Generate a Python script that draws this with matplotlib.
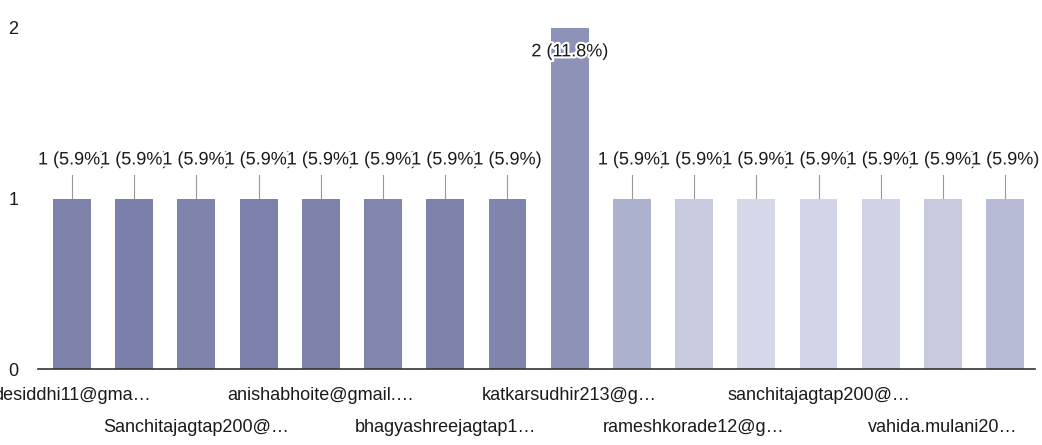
import matplotlib.pyplot as plt
import matplotlib.patheffects as pe

plt.rcParams['font.family'] = ['Liberation Sans', 'DejaVu Sans']

# responses per email (17 responses in total)
counts = [1, 1, 1, 1, 1, 1, 1, 1, 2, 1, 1, 1, 1, 1, 1, 1]
total = 17
tick_labels = ['desiddhi11@gma…', 'Sanchitajagtap200@…', 'anishabhoite@gmail.…',
               'bhagyashreejagtap1…', 'katkarsudhir213@g…', 'rameshkorade12@g…',
               'sanchitajagtap200@…', 'vahida.mulani20…']
# scanned bar shades
colors = ['#7c82aa', '#7a80a9', '#7e84ab', '#7b81aa', '#7d83ab', '#8086ae', '#7c82aa',
          '#7f85ad', '#8d92b7', '#acb1cd', '#c8cbe0', '#d6d9ea', '#d2d5e7', '#d0d3e6',
          '#c7cadf', '#b7bbd5']

fig = plt.figure(figsize=(10.42, 4.45), dpi=100)
ax = fig.add_axes([38 / 1042, 1 - 369 / 445, 997 / 1042, 341 / 445])

x = list(range(len(counts)))
ax.bar(x, counts, width=0.61, color=colors, zorder=2)

halo = [pe.withStroke(linewidth=3, foreground='white')]
for i, c in enumerate(counts):
    label = f'{c} ({c / total * 100:.1f}%)'
    if c == 2:
        ax.text(i, 1.86, label, ha='center', va='center', fontsize=13,
                color='#1a1a1a', path_effects=halo, zorder=5)
    else:
        ax.plot([i, i], [c + 0.005, c + 0.135], color='#999999', lw=0.8, zorder=3)
        ax.text(i, c + 0.226, label, ha='center', va='center', fontsize=13,
                color='#1a1a1a', path_effects=halo, zorder=4 + i * 0.01)

ax.set_xlim(-0.547, 15.48)
ax.set_ylim(0, 2)
ax.set_yticks([0, 1, 2])
ax.set_yticklabels(['0', '1', '2'], fontsize=13, color='#1a1a1a')
ax.tick_params(axis='y', length=0, pad=14)

# category labels, staggered over two rows
ax.set_xticks(x[::2])
ax.set_xticklabels([])
ax.tick_params(axis='x', length=0)
for k, t in enumerate(tick_labels):
    off = -26 if k % 2 == 0 else -59
    ax.annotate(t, xy=(x[::2][k], 0), xycoords=('data', 'axes fraction'),
                xytext=(0, off), textcoords='offset pixels', ha='center', va='center',
                fontsize=13, color='#1a1a1a', annotation_clip=False)

for s in ['top', 'right', 'left']:
    ax.spines[s].set_visible(False)
ax.spines['bottom'].set_color('#333333')
ax.spines['bottom'].set_linewidth(1.2)

fig.savefig('out.png', dpi=100)
